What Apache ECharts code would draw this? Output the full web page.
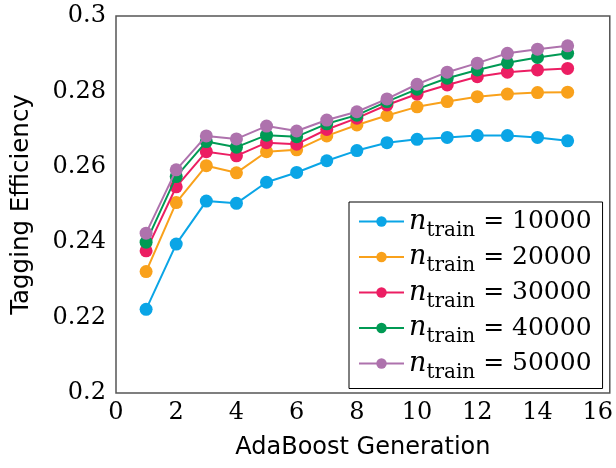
<!DOCTYPE html>
<html>
<head>
<meta charset="utf-8">
<script src="https://cdn.jsdelivr.net/npm/echarts@6/dist/echarts.min.js"></script>
<style>
  html,body{margin:0;padding:0;background:#fff;}
  #chart{width:616px;height:468px;}
</style>
</head>
<body>
<div id="chart"></div>
<script>
// AdaBoost generations
const generations = [1,2,3,4,5,6,7,8,9,10,11,12,13,14,15];
const trainSizes = ['10000','20000','30000','40000','50000'];
// tagging efficiency per n_train
const eff10k = [0.2222,0.2395,0.2509,0.2503,0.2559,0.2585,0.2616,0.2643,0.2664,0.2673,0.2678,0.2683,0.2683,0.2678,0.2669];
const eff20k = [0.2322,0.2505,0.2603,0.2584,0.2640,0.2645,0.2682,0.2711,0.2736,0.2759,0.2773,0.2786,0.2793,0.2797,0.2798];
const eff30k = [0.2377,0.2547,0.2640,0.2629,0.2664,0.2660,0.2699,0.2729,0.2764,0.2793,0.2817,0.2839,0.2851,0.2857,0.2861];
const eff40k = [0.2400,0.2574,0.2667,0.2652,0.2684,0.2680,0.2714,0.2737,0.2773,0.2806,0.2835,0.2857,0.2876,0.2890,0.2901];
const eff50k = [0.2424,0.2592,0.2682,0.2674,0.2708,0.2695,0.2724,0.2746,0.2780,0.2819,0.2851,0.2875,0.2901,0.2912,0.2921];
const xTicks = ['0','2','4','6','8','10','12','14','16'];
const yTicks = ['0.2','0.22','0.24','0.26','0.28','0.3'];

const allEff = [eff10k, eff20k, eff30k, eff40k, eff50k];
const colors = ['#0AA5E6','#F9A11B','#EC1E63','#009A54','#AE72AD'];

const chart = echarts.init(document.getElementById('chart'));

const serif = '"DejaVu Serif", serif';
const sans = '"DejaVu Sans", sans-serif';

const series = trainSizes.map((n, i) => ({
  name: 'n_train = ' + n,
  type: 'line',
  data: generations.map((g, k) => [g, allEff[i][k]]),
  symbol: 'circle',
  symbolSize: 13,
  showSymbol: true,
  color: colors[i],
  lineStyle: {width: 2, color: colors[i]},
  itemStyle: {color: colors[i]},
  emphasis: {disabled: true},
  z: 2 + i
}));

const option = {
  animation: false,
  grid: {
    show: true,
    left: 116, top: 16, right: 5, bottom: 75,
    borderColor: '#555', borderWidth: 1.5,
    backgroundColor: '#fff'
  },
  xAxis: {
    type: 'value',
    // frame runs a little past 16
    min: 0, max: 16.4, interval: 2,
    name: 'AdaBoost Generation',
    nameLocation: 'middle',
    nameGap: 43,
    nameTextStyle: {fontFamily: sans, fontSize: 24, color: '#000'},
    axisLine: {show: false},
    axisTick: {show: false},
    splitLine: {show: false},
    axisLabel: {
      margin: 8,
      showMaxLabel: false,
      fontFamily: serif, fontSize: 24, color: '#000',
      formatter: v => (v % 2 === 0 ? xTicks[v / 2] : '')
    }
  },
  yAxis: {
    type: 'value',
    min: 0.2, max: 0.3, interval: 0.02,
    name: 'Tagging Efficiency',
    nameLocation: 'middle',
    nameGap: 82,
    nameTextStyle: {fontFamily: sans, fontSize: 24.5, color: '#000'},
    axisLine: {show: false},
    axisTick: {show: false},
    splitLine: {show: false},
    axisLabel: {
      margin: 10,
      fontFamily: serif, fontSize: 24, color: '#000',
      formatter: v => yTicks[Math.round((v - 0.2) / 0.02)]
    }
  },
  legend: {
    orient: 'vertical',
    left: 349, top: 202,
    padding: [6, 11, 6, 9],
    itemGap: 3,
    itemWidth: 45,
    itemHeight: 13,
    backgroundColor: '#fff',
    borderColor: '#000',
    borderWidth: 1,
    selectedMode: false,
    data: series.map(s => s.name),
    formatter: name => '{n|n}{s|train}{t| = ' + name.split('= ')[1] + '}',
    textStyle: {
      color: '#000',
      rich: {
        n: {fontFamily: serif, fontStyle: 'italic', fontSize: 27, lineHeight: 30, color: '#000'},
        s: {fontFamily: serif, fontSize: 20, lineHeight: 38, verticalAlign: 'bottom', color: '#000'},
        t: {fontFamily: serif, fontSize: 25, lineHeight: 30, color: '#000'}
      }
    }
  },
  series: series
};

chart.setOption(option);
</script>
</body>
</html>
